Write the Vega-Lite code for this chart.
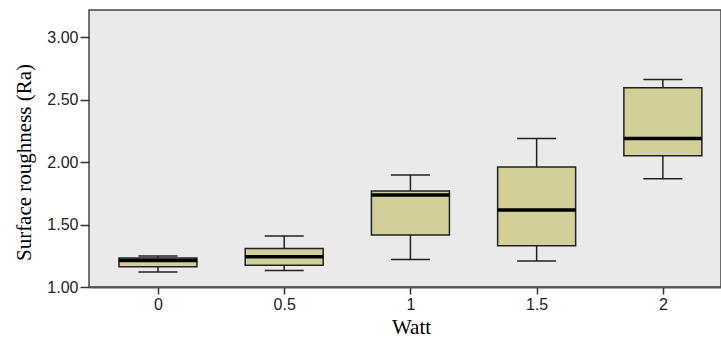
{
  "$schema": "https://vega.github.io/schema/vega-lite/v6.json",
  "autosize": {"type": "none"},
  "width": 632,
  "height": 277,
  "padding": {"left": 89, "top": 10, "right": 0, "bottom": 62},
  "background": "white",
  "config": {
    "view": {"fill": "#EAEAEA", "stroke": "#444444", "strokeWidth": 1.5},
    "axis": {"grid": false}
  },
  "data": {
    "values": [
      {"watt": 0, "min": 1.12, "q1": 1.163, "median": 1.213, "q3": 1.232, "max": 1.248},
      {"watt": 0.5, "min": 1.133, "q1": 1.174, "median": 1.243, "q3": 1.309, "max": 1.408},
      {"watt": 1, "min": 1.221, "q1": 1.416, "median": 1.736, "q3": 1.768, "max": 1.896},
      {"watt": 1.5, "min": 1.208, "q1": 1.331, "median": 1.616, "q3": 1.96, "max": 2.189},
      {"watt": 2, "min": 1.866, "q1": 2.05, "median": 2.189, "q3": 2.594, "max": 2.661}
    ]
  },
  "encoding": {
    "x": {
      "field": "watt", "type": "quantitative",
      "scale": {"domain": [-0.2534, 2.2105], "nice": false, "zero": false},
      "axis": {
        "values": [0, 0.5, 1, 1.5, 2], "format": "~g",
        "title": "Watt", "titleFont": "Liberation Serif", "titleFontSize": 21, "titleFontWeight": "normal", "titleColor": "#000000",
        "titleX": 322, "titleY": 46, "titleBaseline": "alphabetic", "titleAlign": "center",
        "labelFont": "Liberation Sans", "labelFontSize": 16, "labelColor": "#222222", "labelPadding": 2,
        "tickSize": 7, "tickColor": "#333333", "tickWidth": 1.5,
        "domainColor": "#555555", "domainWidth": 2
      }
    }
  },
  "layer": [
    {
      "mark": {"type": "rule", "stroke": "#222222", "strokeWidth": 1.5},
      "encoding": {
        "y": {
          "field": "min", "type": "quantitative",
          "scale": {"domain": [1, 3.216], "nice": false, "zero": false},
          "axis": {
            "values": [1, 1.5, 2, 2.5, 3], "format": ".2f",
            "title": "Surface roughness (Ra)", "titleFont": "Liberation Serif", "titleFontSize": 21, "titleFontWeight": "normal", "titleColor": "#000000",
            "titleX": -65, "titleY": 152, "titleAlign": "center", "titleBaseline": "middle", "titleAngle": -90,
            "labelFont": "Liberation Sans", "labelFontSize": 16, "labelColor": "#222222", "labelPadding": 2,
            "tickSize": 9, "tickColor": "#333333", "tickWidth": 1.5,
            "domain": false
          }
        },
        "y2": {"field": "max"}
      }
    },
    {
      "mark": {"type": "tick", "orient": "horizontal", "size": 39, "thickness": 1.5, "color": "#222222", "opacity": 1},
      "encoding": {"y": {"field": "min", "type": "quantitative"}}
    },
    {
      "mark": {"type": "tick", "orient": "horizontal", "size": 39, "thickness": 1.5, "color": "#222222", "opacity": 1},
      "encoding": {"y": {"field": "max", "type": "quantitative"}}
    },
    {
      "mark": {"type": "bar", "width": 78, "fill": "#D3CF98", "stroke": "#222222", "strokeWidth": 1.5, "opacity": 1},
      "encoding": {
        "y": {"field": "q1", "type": "quantitative"},
        "y2": {"field": "q3"}
      }
    },
    {
      "mark": {"type": "tick", "orient": "horizontal", "size": 78, "thickness": 3.5, "color": "#000000", "opacity": 1},
      "encoding": {"y": {"field": "median", "type": "quantitative"}}
    }
  ]
}
